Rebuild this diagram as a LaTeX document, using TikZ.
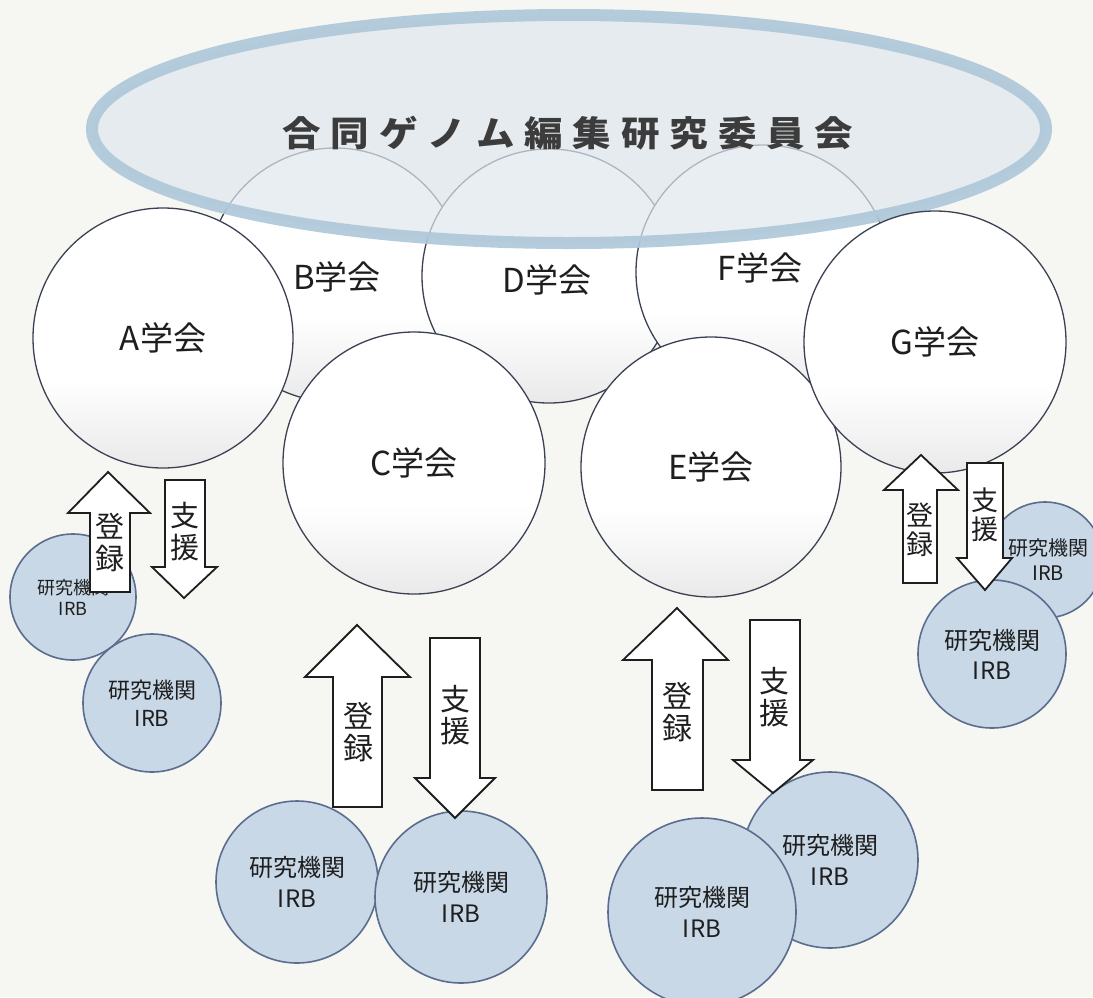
\documentclass[tikz,border=0pt]{standalone}
\usepackage{fontspec}
\usepackage{graphicx}
\usetikzlibrary{shapes.geometric}
\newfontfamily\jp{Noto Sans CJK JP}
\definecolor{bgc}{HTML}{F6F6F2}
\definecolor{ellfill}{HTML}{DFE7ED}
\definecolor{ellband}{HTML}{AFC8DA}
\definecolor{socline}{HTML}{3A4152}
\definecolor{irbfill}{HTML}{C8D8E7}
\definecolor{irbline}{HTML}{5A6D8E}
\definecolor{txt}{HTML}{1E1E1E}
\definecolor{titlec}{HTML}{3C3C3C}
\pgfdeclareverticalshading{socshade}{100bp}{color(0bp)=(black!22); color(22bp)=(black!10); color(42bp)=(white); color(100bp)=(white)}
\newcommand\lsp{\hspace{9pt}}
\tikzset{
  soc/.style={circle, draw=socline, line width=1.3pt, shading=socshade, inner sep=0pt, outer sep=0pt,
    font=\jp\fontsize{33}{36}\selectfont, text=txt},
  irb/.style={circle, draw=irbline, line width=1.6pt, fill=irbfill, inner sep=0pt, outer sep=0pt,
    align=center, text=txt},
  arr/.style={draw=txt, line width=1.8pt, fill=white, line join=miter},
  arrtxt/.style={align=center, text=txt, inner sep=0pt}
}
\begin{document}
\begin{tikzpicture}[x=1pt,y=-1pt]
\fill[bgc] (0,0) rectangle (1093,997);
\useasboundingbox (0,0) rectangle (1093,997);
% back societies
\node[soc, minimum size=254pt] (B) at (335,275) {};
\node[soc, minimum size=254pt] (D) at (549,276) {};
\node[soc, minimum size=254pt] (F) at (763,272) {};
% committee ellipse
\path[fill=ellfill, fill opacity=0.7] (569,129) ellipse [x radius=477, y radius=114];
\node[draw=ellband, line width=12pt, draw opacity=0.92, ellipse, minimum width=954pt, minimum height=228pt, inner sep=0pt] (J) at (569,129) {};
\node[text=titlec, font=\jp\bfseries\fontsize{35}{38}\selectfont, inner sep=0pt] (title) at (568,133)
  {\scalebox{1.1}[1]{合\lsp 同\lsp ゲ\lsp ノ\lsp ム\lsp 編\lsp 集\lsp 研\lsp 究\lsp 委\lsp 員\lsp 会}};
\node[font=\jp\fontsize{33}{36}\selectfont, text=txt] (Bl) at (337,277) {B学会};
\node[font=\jp\fontsize{33}{36}\selectfont, text=txt] (Dl) at (547,280) {D学会};
\node[font=\jp\fontsize{33}{36}\selectfont, text=txt] (Fl) at (760,268) {F学会};
% front societies
\node[soc, minimum size=260pt] (A) at (163,338) {A学会};
\node[soc, minimum size=262pt] (C) at (414,463) {C学会};
\node[soc, minimum size=260pt] (E) at (711,467) {E学会};
\node[soc, minimum size=262pt] (G) at (935,342) {G学会};
% research institutions
\node[irb, minimum size=126pt, font=\jp\fontsize{18}{22}\selectfont] (I1) at (73,597) {研究機関\\[-1pt]IRB};
\node[irb, minimum size=138pt, font=\jp\fontsize{22}{27}\selectfont] (I2) at (152,703) {研究機関\\[1pt]IRB};
\node[irb, minimum size=162pt, font=\jp\fontsize{24}{29}\selectfont] (I3) at (297,882) {研究機関\\[2pt]IRB};
\node[irb, minimum size=172pt, font=\jp\fontsize{24}{29}\selectfont] (I4) at (461,897) {研究機関\\[2pt]IRB};
\node[irb, minimum size=176pt, font=\jp\fontsize{24}{29}\selectfont] (I5) at (830,860) {研究機関\\[2pt]IRB};
\node[irb, minimum size=188pt, font=\jp\fontsize{24}{29}\selectfont] (I6) at (702,912) {研究機関\\[2pt]IRB};
\node[irb, minimum size=116pt, font=\jp\fontsize{20}{24}\selectfont] (I7) at (1045,560) {};
\node[font=\jp\fontsize{20}{24}\selectfont, text=txt, align=center, inner sep=0pt] (I7l) at (1048,560) {研究機関\\[1pt]IRB};
\node[irb, minimum size=148pt, font=\jp\fontsize{24}{29}\selectfont] (I8) at (992,654) {研究機関\\[1pt]IRB};
% arrows A
\draw[arr] (90,592) -- (90,513) -- (68,513) -- (108,472) -- (150,513) -- (130,513) -- (130,592) -- cycle;
\node[arrtxt, font=\jp\fontsize{29}{32}\selectfont] (aA1) at (110,542) {登\\録};
\draw[arr] (165,480) -- (205,480) -- (205,567) -- (217,567) -- (184,598) -- (152,567) -- (165,567) -- cycle;
\node[arrtxt, font=\jp\fontsize{29}{32}\selectfont] (aA2) at (185,532) {支\\援};
% arrows C
\draw[arr] (333,807) -- (333,677) -- (305,677) -- (357,625) -- (410,677) -- (382,677) -- (382,807) -- cycle;
\node[arrtxt, font=\jp\fontsize{30}{32}\selectfont] (aC1) at (358,732) {登\\録};
\draw[arr] (430,638) -- (480,638) -- (480,778) -- (495,778) -- (455,818) -- (415,778) -- (430,778) -- cycle;
\node[arrtxt, font=\jp\fontsize{30}{32}\selectfont] (aC2) at (455,715) {支\\援};
% arrows E
\draw[arr] (652,790) -- (652,660) -- (623,660) -- (677,608) -- (728,660) -- (703,660) -- (703,790) -- cycle;
\node[arrtxt, font=\jp\fontsize{30}{32}\selectfont] (aE1) at (677,712) {登\\録};
\draw[arr] (750,620) -- (800,620) -- (800,760) -- (813,760) -- (773,793) -- (733,760) -- (750,760) -- cycle;
\node[arrtxt, font=\jp\fontsize{30}{32}\selectfont] (aE2) at (774,697) {支\\援};
% arrows G
\draw[arr] (903,583) -- (903,490) -- (884,490) -- (921,455) -- (958,490) -- (937,490) -- (937,583) -- cycle;
\node[arrtxt, font=\jp\fontsize{27}{29}\selectfont] (aG1) at (920,530) {登\\録};
\draw[arr] (967,463) -- (1003,463) -- (1003,558) -- (1012,558) -- (985,590) -- (957,558) -- (967,558) -- cycle;
\node[arrtxt, font=\jp\fontsize{27}{29}\selectfont] (aG2) at (985,515) {支\\援};
\end{tikzpicture}
\end{document}
